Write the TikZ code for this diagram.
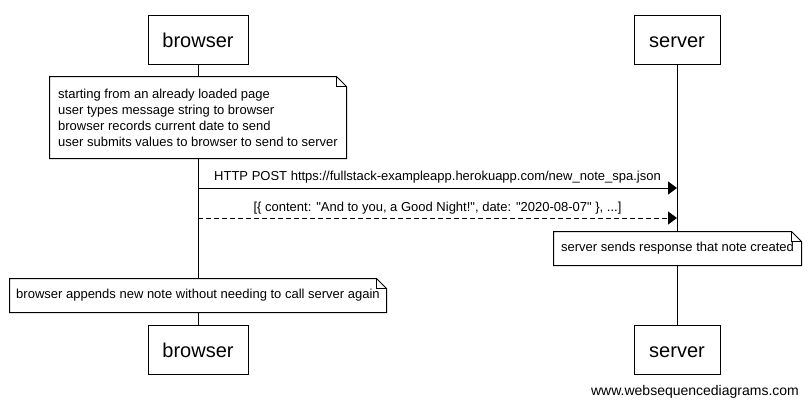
\documentclass[tikz,border=0pt]{standalone}
\usepackage{fontspec}
\setmainfont{Liberation Sans}
\usetikzlibrary{arrows.meta,backgrounds}

\begin{document}
\begin{tikzpicture}[x=1pt,y=-1pt,line width=1pt,
   actor/.style={draw,minimum height=49pt,text height=17pt,text depth=1pt,font=\fontsize{20}{24}\selectfont},
   notebox/.style={fill=white,align=left,inner xsep=6pt,font=\fontsize{13}{16}\selectfont},
   msg/.style={-{Triangle[length=9pt,width=13pt]}},
   msglabel/.style={above=1pt,font=\fontsize{13}{16}\selectfont}]
  \useasboundingbox (0,0) rectangle (810,408);

  % participants
  \node[actor,minimum width=100pt] (btop) at (198,39.5) {browser};
  \node[actor,minimum width=86pt] (stop) at (677,39.5) {server};
  \node[actor,minimum width=100pt] (bbot) at (198,349.5) {browser};
  \node[actor,minimum width=86pt] (sbot) at (677,349.5) {server};
  \begin{scope}[on background layer]
    \draw (btop) -- (bbot);
    \draw (stop) -- (sbot);
  \end{scope}

  % notes
  \node[notebox,minimum width=296pt,minimum height=81pt] (note1) at (198,117.5)
     {starting from an already loaded page\\user types message string to browser\\browser records current date to send\\user submits values to browser to send to server};
  \node[notebox,minimum width=247pt,minimum height=33pt] (note2) at (677.5,248.5)
     {server sends response that note created};
  \node[notebox,minimum width=376pt,minimum height=33pt] (note3) at (198,295.5)
     {browser appends new note without needing to call server again};
  \foreach \n in {note1,note2,note3}{
    \draw (\n.north west) -- ([xshift=-10pt]\n.north east) -- ([yshift=-10pt]\n.north east)
          -- (\n.south east) -- (\n.south west) -- cycle;
    \draw ([xshift=-10pt]\n.north east) -- ([xshift=-10pt,yshift=-10pt]\n.north east)
          -- ([yshift=-10pt]\n.north east);
  }

  % messages
  \coordinate (post0) at (198,188);  \coordinate (post1) at (677,188);
  \coordinate (resp0) at (198,218);  \coordinate (resp1) at (677,218);
  \draw[msg] (post0) -- node[msglabel]{HTTP POST https://fullstack-exampleapp.herokuapp.com/new\_note\_spa.json} (post1);
  \draw[msg,dash pattern=on 5pt off 3pt] (resp0) -- node[msglabel,above=-1pt]{[\{ content: \textquotedbl And to you, a Good Night!\textquotedbl, date: \textquotedbl 2020-08-07\textquotedbl\ \}, ...]} (resp1);

  \node[font=\fontsize{14}{16}\selectfont] (credit) at (695,392) {www.websequencediagrams.com};
\end{tikzpicture}
\end{document}
